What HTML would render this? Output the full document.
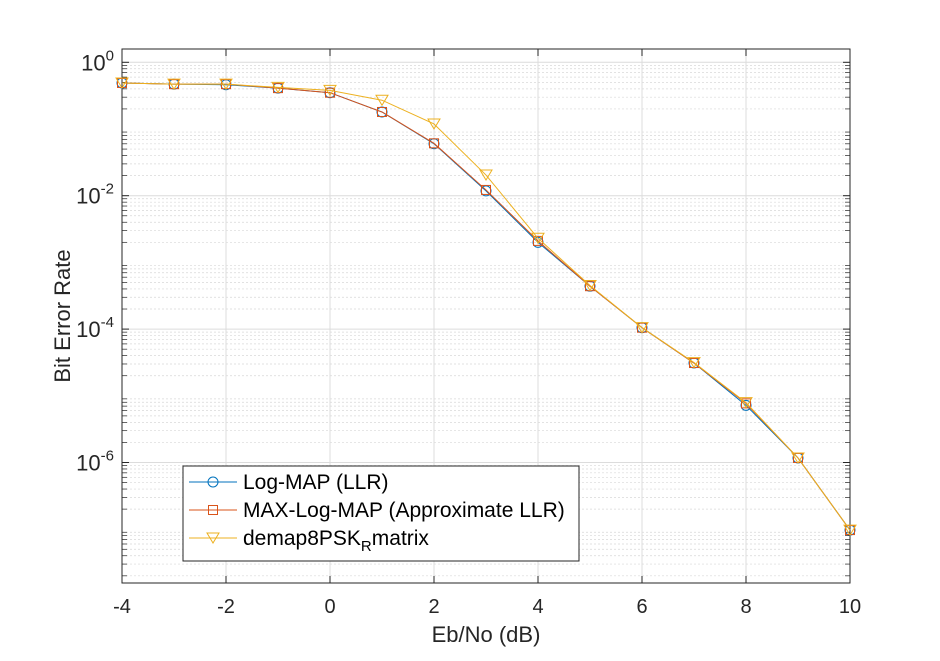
<!DOCTYPE html>
<html><head><meta charset="utf-8"><style>
body{margin:0;background:#fff;width:940px;height:656px;overflow:hidden}
svg{font-family:"Liberation Sans",Arial,sans-serif}
</style></head><body>
<svg id="chart" width="940" height="656" viewBox="0 0 940 656" xmlns="http://www.w3.org/2000/svg"></svg>
<script>
const ebno = [-4,-3,-2,-1,0,1,2,3,4,5,6,7,8,9,10];
const berLogMap = [0.49,0.47,0.46,0.41,0.35,0.18,0.060,0.0118,0.0020,4.4e-4,1.05e-4,3.1e-5,7.2e-6,1.17e-6,9.7e-8];
const berMaxLogMap = [0.49,0.47,0.47,0.41,0.35,0.18,0.061,0.0122,0.0021,4.4e-4,1.05e-4,3.1e-5,7.7e-6,1.17e-6,9.7e-8];
const berDemap = [0.49,0.47,0.47,0.42,0.38,0.27,0.119,0.0204,0.0023,4.5e-4,1.05e-4,3.15e-5,7.9e-6,1.17e-6,9.7e-8];
const xTicks = [-4,-2,0,2,4,6,8,10];
const yTickExps = [0,-2,-4,-6];
const seriesNames = ["Log-MAP (LLR)","MAX-Log-MAP (Approximate LLR)","demap8PSK"];

const L=122,R=850,T=49,B=583;
const X=v=>L+(v+4)*(R-L)/14;
const Y=v=>62.3-Math.log10(v)*66.7;
const svg=document.getElementById('chart');
const NS='http://www.w3.org/2000/svg';
function mk(tag,attrs,parent){const e=document.createElementNS(NS,tag);for(const k in attrs)e.setAttribute(k,attrs[k]);(parent||svg).appendChild(e);return e;}

mk('rect',{x:L,y:T,width:R-L,height:B-T,fill:'#fff'});
const grid=mk('g',{});


for(let e=-8;e<=0;e++){for(let m=2;m<=9;m++){const y=Y(m*Math.pow(10,e));if(y<T||y>B)continue;
mk('line',{x1:L,x2:R,y1:y,y2:y,stroke:'#d8d8d8','stroke-width':0.7,'stroke-dasharray':'2,2'},grid);
mk('line',{x1:L,x2:L+5,y1:y,y2:y,stroke:'#262626','stroke-width':0.7},grid);
mk('line',{x1:R,x2:R-5,y1:y,y2:y,stroke:'#262626','stroke-width':0.7},grid);}}
xTicks.forEach(t=>{const x=X(t);
mk('line',{x1:x,x2:x,y1:T,y2:B,stroke:'#dcdcdc','stroke-width':1},grid);
mk('line',{x1:x,x2:x,y1:B,y2:B-7,stroke:'#262626'},grid);
mk('line',{x1:x,x2:x,y1:T,y2:T+7,stroke:'#262626'},grid);
const tx=mk('text',{x:x,y:B+30,'text-anchor':'middle','font-size':20,fill:'#262626'});


tx.textContent=t;});
yTickExps.forEach(e=>{const y=Y(Math.pow(10,e));
mk('line',{x1:L,x2:R,y1:y,y2:y,stroke:'#dcdcdc','stroke-width':1},grid);
mk('line',{x1:L,x2:L+7,y1:y,y2:y,stroke:'#262626'},grid);
mk('line',{x1:R,x2:R-7,y1:y,y2:y,stroke:'#262626'},grid);
const tx=mk('text',{x:L-8,y:y+8,'text-anchor':'end','font-size':22,fill:'#262626'});


const a=document.createElementNS(NS,'tspan');a.textContent='10';tx.appendChild(a);
const b=document.createElementNS(NS,'tspan');b.setAttribute('dy','-10');b.setAttribute('font-size','15');b.textContent=String(e);tx.appendChild(b);
});
const ax=mk('rect',{x:L,y:T,width:R-L,height:B-T,fill:'none',stroke:'#262626','stroke-width':1});



const colors=['#0072BD','#D95319','#EDB120'];
const datasets=[berLogMap,berMaxLogMap,berDemap];
function marker(i,x,y,g){
 if(i===0)mk('circle',{cx:x,cy:y,r:5,fill:'none',stroke:colors[0]},g);
 else if(i===1)mk('rect',{x:x-4.5,y:y-4.5,width:9,height:9,fill:'none',stroke:colors[1]},g);
 else mk('polygon',{points:`${x-6},${y-5} ${x+6},${y-5} ${x},${y+5}`,fill:'none',stroke:colors[2]},g);
}
datasets.forEach((d,i)=>{const g=mk('g',{});


mk('polyline',{points:d.map((v,j)=>X(ebno[j])+','+Y(v)).join(' '),fill:'none',stroke:colors[i],'stroke-width':1},g);
d.forEach((v,j)=>marker(i,X(ebno[j]),Y(v),g));});

const lg=mk('g',{});


mk('rect',{x:183,y:466,width:396,height:95,fill:'#fff',stroke:'#262626'},lg);
seriesNames.forEach((n,i)=>{const y=482+i*28;
const e=mk('g',{},lg);


mk('line',{x1:189,x2:237,y1:y,y2:y,stroke:colors[i]},e);
marker(i,213,y,e);
const t=mk('text',{x:243,y:y+7,'font-size':21,fill:'#000'},e);
t.textContent=n;
if(i===2){const s=document.createElementNS(NS,'tspan');s.setAttribute('dy','6');s.setAttribute('font-size','15');s.textContent='R';t.appendChild(s);
const s2=document.createElementNS(NS,'tspan');s2.setAttribute('dy','-6');s2.textContent='matrix';t.appendChild(s2);}
});

const xl=mk('text',{x:486,y:642,'text-anchor':'middle','font-size':22,fill:'#262626'});


xl.textContent='Eb/No (dB)';
const yl=mk('text',{x:0,y:0,'text-anchor':'middle','font-size':22,fill:'#262626',transform:'translate(70,316) rotate(-90)'});


yl.textContent='Bit Error Rate';
</script>
</body></html>
